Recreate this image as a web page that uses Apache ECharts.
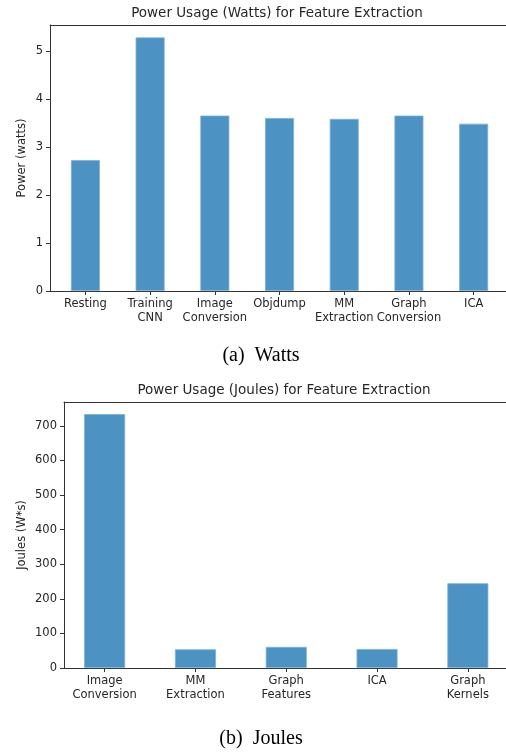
<!DOCTYPE html>
<html>
<head>
<meta charset="utf-8">
<script src="https://cdn.jsdelivr.net/npm/echarts@6/dist/echarts.min.js"></script>
<style>
  html, body { margin: 0; padding: 0; background: #fff; }
  #main { width: 506px; height: 754px; }
</style>
</head>
<body>
<div id="main"></div>
<script>
  // (a) watts
  const wattCategories = ['Resting', 'Training\nCNN', 'Image\nConversion', 'Objdump', 'MM\nExtraction', 'Graph\nConversion', 'ICA'];
  const wattValues = [2.73, 5.29, 3.66, 3.61, 3.59, 3.66, 3.49];
  const wattTicks = [0, 1, 2, 3, 4, 5];

  // (b) joules
  const jouleCategories = ['Image\nConversion', 'MM\nExtraction', 'Graph\nFeatures', 'ICA', 'Graph\nKernels'];
  const jouleValues = [734, 54, 61, 55, 245];
  const jouleTicks = [0, 100, 200, 300, 400, 500, 600, 700];

  const font = 'DejaVu Sans';
  const textColor = '#262626';
  const barColor = '#4c92c3';
  const lineStyle = { color: '#333', width: 1 };

  const myChart = echarts.init(document.getElementById('main'), null, { renderer: 'canvas' });

  function idx(list) {
    return list.map((c, i) => i);
  }

  // x axis (value type so the matplotlib margins can be matched), labels only at the categories
  function catAxis(gridIndex, cats, min, max) {
    return {
      type: 'value',
      gridIndex,
      min,
      max,
      splitLine: { show: false },
      axisLine: { show: true, onZero: false, lineStyle },
      axisTick: { show: true, length: 4, lineStyle, customValues: idx(cats) },
      axisLabel: {
        customValues: idx(cats),
        formatter: v => cats[Math.round(v)] || '',
        color: textColor,
        fontFamily: font,
        fontSize: 11.5,
        lineHeight: 14,
        margin: 6,
      },
    };
  }

  function topSpine(gridIndex, min, max) {
    return {
      type: 'value',
      gridIndex,
      position: 'top',
      min,
      max,
      axisLine: { show: true, onZero: false, lineStyle },
      axisTick: { show: false },
      axisLabel: { show: false },
      splitLine: { show: false },
    };
  }

  function valAxis(gridIndex, name, max, ticks, gap) {
    return {
      type: 'value',
      gridIndex,
      min: 0,
      max,
      name,
      nameLocation: 'middle',
      nameGap: gap,
      nameMoveOverlap: false,
      nameTextStyle: { color: textColor, fontFamily: font, fontSize: 11.5 },
      splitLine: { show: false },
      axisLine: { show: true, onZero: false, lineStyle },
      axisTick: { show: true, length: 4, lineStyle, customValues: ticks },
      axisLabel: {
        customValues: ticks,
        color: textColor,
        fontFamily: font,
        fontSize: 11.5,
        margin: 7,
      },
    };
  }

  const titleStyle = { color: textColor, fontFamily: font, fontSize: 13.5, fontWeight: 'normal' };
  const captionStyle = { color: '#000', fontFamily: 'Liberation Serif', fontSize: 20, fontWeight: 'normal' };

  const option = {
    animation: false,
    backgroundColor: '#fff',
    title: [
      { text: 'Power Usage (Watts) for Feature Extraction', left: 277, top: 6, textAlign: 'center', textStyle: titleStyle, padding: 0 },
      { text: '(a)  Watts', left: 261, top: 346, textAlign: 'center', textStyle: captionStyle, padding: 0 },
      { text: 'Power Usage (Joules) for Feature Extraction', left: 284, top: 383, textAlign: 'center', textStyle: titleStyle, padding: 0 },
      { text: '(b)  Joules', left: 261, top: 729, textAlign: 'center', textStyle: captionStyle, padding: 0 },
    ],
    grid: [
      { left: 50, right: 0, top: 25, height: 266 },
      { left: 64, right: 0, top: 402, height: 266 },
    ],
    xAxis: [
      catAxis(0, wattCategories, -0.5475, 6.5),
      catAxis(1, jouleCategories, -0.4475, 4.42),
      topSpine(0, -0.5475, 6.5),
      topSpine(1, -0.4475, 4.42),
    ],
    yAxis: [
      valAxis(0, 'Power (watts)', 5.55, wattTicks, 22),
      valAxis(1, 'Joules (W*s)', 769, jouleTicks, 36),
    ],
    series: [
      {
        type: 'bar',
        xAxisIndex: 0,
        yAxisIndex: 0,
        barWidth: 29,
        itemStyle: { color: barColor, borderColor: '#7fb0d4', borderWidth: 0.8 },
        data: wattValues.map((v, i) => [i, v]),
      },
      {
        type: 'bar',
        xAxisIndex: 1,
        yAxisIndex: 1,
        barWidth: 41,
        itemStyle: { color: barColor, borderColor: '#7fb0d4', borderWidth: 0.8 },
        data: jouleValues.map((v, i) => [i, v]),
      },
    ],
  };

  myChart.setOption(option);
  window.onresize = myChart.resize;
</script>
</body>
</html>
